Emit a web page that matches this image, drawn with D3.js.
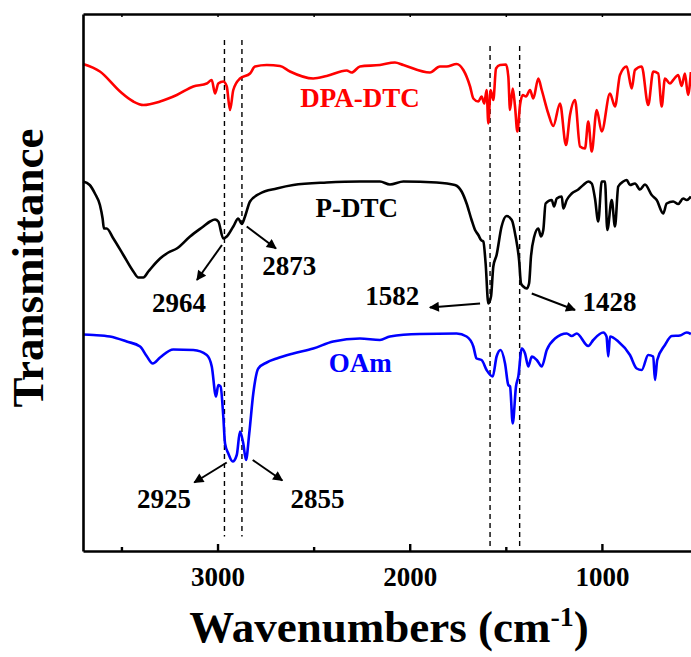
<!DOCTYPE html>
<html>
<head>
<meta charset="utf-8">
<script src="https://cdn.jsdelivr.net/npm/d3@7"></script>
<style>
body { margin: 0; background: #fff; }
svg { display: block; }
text { font-family: "Liberation Serif", "Times New Roman", serif; font-weight: bold; }
</style>
</head>
<body>
<svg id="chart"></svg>
<script>
var width = 691, height = 657;

// spectra: [wavenumber, transmittance (a.u., offset)]
var dpaDtc = [[3700,97.4],[3612,95.9],[3507,91.9],[3438,89.9],[3386,89.2],[3299,89.9],[3212,91.2],[3126,92.9],
	[3056,93.5],[3030,94.2],[3013,91.5],[2996,93.5],[2970,93.9],[2952,92.9],[2935,88.2],[2918,92.2],[2883,94.5],
	[2831,95.5],[2805,96.9],[2744,97.2],[2675,97],[2623,95.9],[2502,94.5],[2432,95],[2328,96.1],[2302,95.7],
	[2259,96.9],[2155,97.2],[2077,97.7],[2033,97.2],[1895,95.7],[1843,96.9],[1808,96.9],[1756,97.4],[1721,96.2],
	[1686,92.9],[1669,90.5],[1643,89.9],[1626,90.9],[1612,89.5],[1600,92.2],[1591,85.5],[1579,92.2],[1565,90.2],
	[1551,96.5],[1530,97.2],[1499,97.3],[1487,94.9],[1478,88.2],[1464,92.5],[1452,88.9],[1440,83.9],[1426,89.2],
	[1412,91.2],[1395,90.9],[1374,92.2],[1357,90.5],[1331,94.5],[1313,92.2],[1279,87.5],[1253,85],[1218,89.5],
	[1187,81.2],[1166,87.2],[1140,90.2],[1114,80.9],[1088,80.5],[1071,85.9],[1053,79.9],[1027,88.2],[1001,83.9],
	[958,91.5],[932,88.9],[906,95.2],[871,96.9],[845,92.5],[828,96.2],[793,96.9],[759,89.2],[733,95.9],[707,95.5],
	[689,88.9],[672,94.5],[646,93.5],[629,94.2],[603,95.2],[585,93],[568,95.5],[552,91.2],[537,95.8]];

var pDtc = [[3700,73.9],[3665,73.2],[3638,71.5],[3612,69.2],[3598,66.5],[3591,64.5],[3577,64.5],[3542,62.5],
	[3490,59.2],[3438,55.9],[3412,54.7],[3386,54.7],[3360,55.9],[3299,58.5],[3256,59.7],[3212,60.5],[3143,62.9],
	[3074,64.9],[3039,65.9],[3013,66.3],[2996,65.9],[2970,62.5],
	[2952,62.9],[2918,64.9],[2892,66.5],[2874,65.4],[2857,66.9],[2831,69.9],[2779,71.5],[2692,72.5],[2606,73.2],
	[2432,73.7],[2259,73.9],[2155,73.9],[2103,73.3],[2033,73.9],[1860,73.7],[1765,73.2],[1730,71.9],[1704,69.5],
	[1678,66.2],[1660,64.2],[1643,63.2],[1629,62.2],[1617,61.9],[1605,57.5],[1591,49.5],[1577,50.9],[1565,56.9],
	[1548,59.2],[1522,64.9],[1496,67],[1469,66.2],[1449,62.9],[1431,58.2],[1421,53.5],[1409,52.9],[1391,52.5],
	[1379,53.5],[1369,58.9],[1352,62.9],[1331,64.5],[1317,62.9],[1305,64.2],[1293,69.5],[1261,70.2],[1249,68.9],
	[1235,70.5],[1209,70.9],
	[1201,68.5],[1183,70.2],[1157,71.5],[1123,72.3],[1097,73.2],[1071,73.9],[1053,73.5],[1036,70.5],[1019,65.9],
	[1001,73.9],[984,73.9],[972,64.2],[949,70.2],[932,64.9],[915,72.9],[889,73.9],[871,74.2],[854,73.2],[828,73.5],
	[802,72.3],[776,73.3],[741,71.2],[715,70.2],[681,67.5],[663,69.5],[629,69.9],[603,69.4],[577,70.5],[559,70.2],
	[537,70.9]];

var oam = [[3700,43.3],[3646,43.2],[3560,42.9],[3473,41.9],[3403,40.9],[3369,39],[3337,37.5],[3299,38.7],
	[3230,40.3],[3126,40.2],[3056,39.2],[3030,36.9],[3008,30.9],[2996,33.2],[2984,32.9],[2970,26.9],[2961,21.5],
	[2944,19.5],[2921,17.9],[2900,19.2],[2883,23.9],[2866,21.5],[2852,18.2],[2835,23.5],[2814,31.5],[2788,36.5],
	[2744,37.7],[2692,38.5],[2606,39.5],[2502,40.5],[2398,41.9],[2259,42.5],[2155,42.2],[2103,42.9],[1947,43.4],
	[1756,43.5],[1704,42.9],[1669,40.9],[1652,38.5],[1626,38.2],[1600,36.2],[1568,34.9],[1548,38.9],[1527,40.2],
	[1504,37.5],[1487,33.2],[1478,32.9],[1464,25.5],[1447,32.9],[1435,34.9],[1417,40.5],[1400,39.5],[1383,36.9],
	[1365,38.9],[1339,38.2],[1313,36.9],[1287,40.2],[1244,42.5],[1183,43.5],[1157,43],[1131,43.5],[1071,41],
	[1045,42.2],[993,43.7],[976,42.9],[967,38.9],[958,42.9],[915,41.9],[854,39.2],[819,36.5],[793,36.2],[759,39.2],
	[733,38.9],[724,34.2],[712,38.2],[672,41.2],[637,43],[594,43.1],[559,43.7],[537,43.4]];

var seriesNames = ["DPA-DTC", "P-DTC", "OAm"];
var seriesColors = ["#ff0000", "#000000", "#0000ff"];
// label anchor: [wavenumber, value]
var seriesLabelPos = [[2259, 88.9], [2276, 66.9], [2257, 35.9]];

var majorTicks = [3000, 2000, 1000];
var minorTicks = [3500, 2500, 1500, 500];

// dashed guide lines: [wavenumber, top value, bottom value]
var guides = [[2964, 102.2, 2.9], [2873, 102.2, 2.9], [1582, 101, 0.9], [1428, 101, 0.9]];

// peak labels: text, label pos, arrow from, arrow to
var peakLabels = ["2964", "2873", "1582", "1428", "2925", "2855"];
var peakLabelPos = [[3200, 47.9], [2627, 55.2], [2091, 49.2], [960, 48.1], [3279, 8.7], [2480, 8.7]];
var arrowFrom = [[2977, 61.2], [2848, 64.9], [1634, 49.5], [1365, 51.5], [2952, 17.7], [2817, 18.2]];
var arrowTo = [[3107, 54.2], [2696, 60.5], [1895, 48.7], [1140, 48.2], [3121, 13.7], [2663, 14.1]];

var plotLeft = 83, plotTop = 14, plotBottom = 551;

var x = d3.scaleLinear().domain([3700, 500]).range([plotLeft, 698]);
var y = d3.scaleLinear().domain([0, 107.4]).range([plotBottom, plotTop]);

var svg = d3.select('#chart').attr('width', width).attr('height', height);

svg.append('defs').append('marker')
	.attr('id', 'arrow')
	.attr('viewBox', '0 0 10 10')
	.attr('refX', 9).attr('refY', 5)
	.attr('markerWidth', 6).attr('markerHeight', 5)
	.attr('markerUnits', 'strokeWidth')
	.attr('orient', 'auto')
	.append('path').attr('d', 'M0,0 L10,5 L0,10 z').attr('fill', '#000');

// guide lines
svg.selectAll('.guide').data(guides).enter().append('line')
	.attr('class', 'guide')
	.attr('x1', function(d){ return x(d[0]); }).attr('x2', function(d){ return x(d[0]); })
	.attr('y1', function(d){ return y(d[1]); }).attr('y2', function(d){ return y(d[2]); })
	.attr('stroke', '#000').attr('stroke-width', 1.4).attr('stroke-dasharray', '5,4');

var line = d3.line()
	.x(function(d){ return x(d[0]); })
	.y(function(d){ return y(d[1]); })
	.curve(d3.curveMonotoneX);

var allSeries = [dpaDtc, pDtc, oam];
for (var i = 0; i < allSeries.length; i++) {
	svg.append('path')
		.datum(allSeries[i])
		.attr('d', line)
		.attr('fill', 'none')
		.attr('stroke', seriesColors[i])
		.attr('stroke-width', 2.6)
		.attr('stroke-linejoin', 'round');

	svg.append('text')
		.attr('x', x(seriesLabelPos[i][0]))
		.attr('y', y(seriesLabelPos[i][1]))
		.attr('text-anchor', 'middle')
		.attr('font-size', 27)
		.attr('fill', seriesColors[i])
		.text(seriesNames[i]);
}

// peak annotations
for (var j = 0; j < peakLabels.length; j++) {
	svg.append('line')
		.attr('x1', x(arrowFrom[j][0])).attr('y1', y(arrowFrom[j][1]))
		.attr('x2', x(arrowTo[j][0])).attr('y2', y(arrowTo[j][1]))
		.attr('stroke', '#000').attr('stroke-width', 2)
		.attr('marker-end', 'url(#arrow)');

	svg.append('text')
		.attr('x', x(peakLabelPos[j][0]))
		.attr('y', y(peakLabelPos[j][1]))
		.attr('text-anchor', 'middle')
		.attr('font-size', 27)
		.text(peakLabels[j]);
}

// axes
var xAxis = svg.append('g')
	.attr('transform', 'translate(0,' + plotBottom + ')')
	.call(d3.axisBottom(x).tickValues(majorTicks).tickSize(-7).tickSizeOuter(0).tickPadding(14).tickFormat(d3.format('d')));
xAxis.select('.domain').attr('stroke-width', 2.6);
xAxis.selectAll('.tick line').attr('stroke-width', 2.4);
xAxis.selectAll('.tick text')
	.attr('font-size', 27)
	.attr('font-family', '"Liberation Serif", "Times New Roman", serif')
	.attr('font-weight', 'bold')
	.attr('dy', '0')
	.attr('y', 35);

var xMinor = svg.append('g')
	.attr('transform', 'translate(0,' + plotBottom + ')')
	.call(d3.axisBottom(x).tickValues(minorTicks).tickSize(-4).tickSizeOuter(0).tickFormat(''));
xMinor.select('.domain').remove();
xMinor.selectAll('.tick line').attr('stroke-width', 2.4);

var xTop = svg.append('g')
	.attr('transform', 'translate(0,' + plotTop + ')')
	.call(d3.axisTop(x).tickValues(majorTicks.concat(minorTicks)).tickSize(-3).tickSizeOuter(0).tickFormat(''));
xTop.select('.domain').attr('stroke-width', 2.6);
xTop.selectAll('.tick line').attr('stroke-width', 1.5);

svg.append('g')
	.attr('transform', 'translate(' + plotLeft + ',0)')
	.call(d3.axisLeft(y).tickValues([]).tickSizeOuter(0))
	.select('.domain').attr('stroke-width', 2.6);

// axis titles
svg.append('text')
	.attr('transform', 'translate(43,268) rotate(-90)')
	.attr('text-anchor', 'middle')
	.attr('font-size', 45)
	.text('Transmittance');

var xt = svg.append('text')
	.attr('x', 389).attr('y', 642)
	.attr('text-anchor', 'middle')
	.attr('font-size', 45);
xt.append('tspan').text('Wavenumbers (cm');
xt.append('tspan').attr('font-size', 28).attr('dy', -16).text('-1');
xt.append('tspan').attr('dy', 16).text(')');
</script>
</body>
</html>
